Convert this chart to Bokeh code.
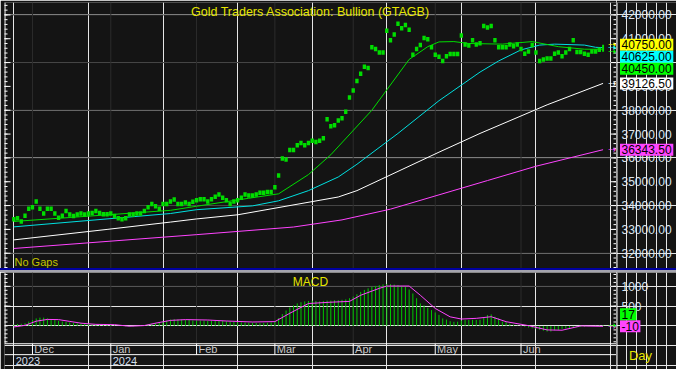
import numpy as np
from bokeh.plotting import figure
from bokeh.layouts import column, row
from bokeh.models import Range1d, Label, Span, Div
from bokeh.embed import file_html
from bokeh.resources import INLINE
from bokeh.core.properties import value

# ---------------- data ----------------
title_text = "Gold Traders Association: Bullion (GTAGB)"

close = [
    33427, 33467, 33333, 33573, 33867, 33933, 34173, 33867, 33667, 33867, 33867, 33667, 33493, 33573,
    33773, 33627, 33560, 33627, 33667, 33627, 33667, 33693, 33773, 33693, 33640, 33640, 33667, 33560,
    33467, 33427, 33467, 33627, 33627, 33667, 33667, 33773, 33933, 34067, 33973, 33867, 34067, 34067,
    34173,
    34253, 34067, 34067, 34133, 34067, 34160, 34227, 34267, 34267, 34173, 34267, 34373, 34467, 34333,
    34227, 34067, 34173, 34227, 34333, 34467, 34427, 34427, 34467, 34533, 34533, 34573, 34573, 34773,
    35267, 35973, 35933, 36333, 36333, 36533, 36627, 36533, 36627, 36720, 36667, 36720, 36827, 37627,
    37333, 37373, 37573, 37667, 37933, 38533, 38827, 39227, 39533, 39827, 39773, 40640, 40573, 40427,
    40427, 41333, 40933, 41173, 41627, 41440, 41573, 41373, 40333, 40573, 40733, 41027, 40973, 40640,
    40333, 40240,
    40067, 40267, 40360, 40360, 40360, 41133, 40760, 40720, 40933, 40760, 40813, 41533, 41467, 41533,
    40933, 40640, 40640, 40640, 40760, 40680, 40760, 40573, 40373, 40467, 40733, 40427, 40067, 40133,
    40173, 40173, 40373, 40427, 40267, 40427, 40573, 40933, 40440, 40440, 40373, 40333, 40467, 40467,
    40533, 40450,
]
last_high = 40750

ma_fast_idx = [0, 42, 49, 63, 71, 79, 85, 96, 106, 111, 114, 118, 122, 131, 139, 146, 153, 158]
ma_fast_val = [33333, 33800, 33973, 34307, 34493, 35300, 36133, 38000, 40133, 40667, 40867, 40880,
               40800, 40773, 40880, 40667, 40560, 40560]

ma_mid_idx = [0, 42, 49, 64, 71, 79, 87, 92, 103, 114, 125, 130, 136, 141, 145, 153, 156, 158]
ma_mid_val = [33107, 33667, 33827, 33987, 34200, 34627, 35200, 35733, 37027, 38400, 39600, 40067,
              40533, 40733, 40773, 40733, 40640, 40625]

ma_slow_idx = [0, 25, 42, 49, 60, 87, 92, 114, 125, 143, 158]
ma_slow_val = [32560, 33000, 33307, 33440, 33613, 34360, 34627, 36240, 37027, 38227, 39126.5]

ma_long_idx = [0, 49, 75, 88, 101, 114, 127, 140, 158]
ma_long_val = [32200, 32780, 33100, 33400, 33850, 34450, 35050, 35650, 36343.5]

macd = [
    30, 50, 55, 70, 110, 150, 190, 210, 210, 190, 160, 155, 130, 110, 100, 90, 75, 65, 60, 55,
    50, 45, 42, 40, 35, 30, 25, 15, 5, -5, -10, -17, -15, -5, 10, 25, 40, 55, 75, 90,
    110, 130, 160, 170, 165, 160, 155, 150, 135, 135, 135, 135, 130, 130, 130, 125, 125, 120, 110, 100,
    95, 90, 85, 80, 80, 75, 70, 75, 80, 90, 120, 200, 300, 390, 470, 520, 570, 600, 620, 630,
    640, 630, 620, 630, 640, 640, 650, 650, 660, 670, 700, 740, 800, 860, 910, 950, 990, 1010, 1030, 1050,
    1060, 1055, 1045, 1030, 1010, 990, 920, 820, 700, 570, 520, 460, 400, 340, 280, 190, 160, 120, 105, 108,
    140, 150, 150, 155, 150, 155, 208, 275, 292, 233, 192, 108, 100, 58, 33, 10, 0, -20, -40, -60,
    -75, -100, -120, -142, -142, -110, -100, -75, -65, -50, -40, -30, -25, -20, -8, 0, 5, 10, 17,
]
signal_idx = [0, 3, 6, 9, 12, 15, 18, 22, 27, 31, 35, 38, 42, 46, 52, 57, 64, 70, 74, 79, 85, 90,
              93, 98, 100, 106, 109, 113, 117, 120, 124, 128, 132, 138, 143, 147, 152, 158]
signal_val = [-25, 15, 120, 165, 160, 115, 70, 40, 33, -8, 10, 70, 140, 160, 150, 125, 100, 110, 320,
              567, 600, 620, 775, 950, 1008, 1008, 775, 442, 230, 175, 192, 233, 108, 8, -100, -108,
              0, -10]

month_labels = ["Dec", "Jan", "Feb", "Mar", "Apr", "May", "Jun"]
month_first_bar = [5, 26, 49, 70, 91, 113, 136]
year_labels = ["2023", "2024"]
year_first_bar = [0, 26]

price_ticks = list(range(32000, 42001, 1000))
price_minor = list(range(31400, 42600, 200))
price_grid = list(range(32000, 42001, 2000))
macd_ticks = [500, 1000]
macd_minor = list(range(-400, 1301, 100))

# ---------------- styling ----------------
BG = "#141414"
HGRID = "#3a3a3a"
VGRID = "#2c2c2c"
AXTXT = "#dbe5ef"
FONT = "Liberation Sans"
GREEN = "#00dd00"
CYAN = "#00e0e0"
MAG = "#ff44ff"
YEL = "#e6e600"

LEFT_W = 616          # chart figures (4px border + frame)
RIGHT_W = 60          # value-axis figures
X0, X1 = -2.5, 161.6
FRAME_W = LEFT_W - 4
upx = (X1 - X0) / FRAME_W

idx = np.arange(len(close))


def base_fig(width, height, xr, yr, top, left):
    return figure(width=width, height=height, x_range=xr, y_range=yr,
                  output_backend="svg", toolbar_location=None,
                  x_axis_location=None, y_axis_location=None,
                  min_border_left=left, min_border_right=0, min_border_top=top, min_border_bottom=0,
                  background_fill_color=BG, border_fill_color=BG, outline_line_color=None)


def edge_ticks(f, xpos, majors, minors):
    f.scatter(x=[xpos] * len(minors), y=minors, marker="dash", size=6, line_color="white")
    f.scatter(x=[xpos] * len(majors), y=majors, marker="dash", size=12, line_color="white")


def text_w(s):
    return sum(6.7 if ch.isdigit() else (3.4 if ch == "." else 4.0) for ch in s) + 3


def draw_tags(f, positions, texts, colors):
    widths = [text_w(t) for t in texts]
    f.rect(x=[3.5 + w / 2 for w in widths], y=positions, width=widths, height=12, height_units="screen",
           fill_color=colors, line_color=None)
    f.text(x=[5] * len(texts), y=positions, text=texts, text_align="left", text_baseline="middle",
           text_color="#000000", text_font=value(FONT), text_font_size="12px")


# ---------------- main panel ----------------
MAIN_H = 268
Y0, Y1 = 31360, 42520
upy = (Y1 - Y0) / (MAIN_H - 2)
yr_main = Range1d(Y0, Y1)
xr = Range1d(X0, X1)

p = base_fig(LEFT_W, MAIN_H, xr, yr_main, 2, 4)
p.segment(x0=[X0] * len(price_grid), y0=price_grid, x1=[X1] * len(price_grid), y1=price_grid,
          line_color=HGRID, line_width=1)
p.segment(x0=month_first_bar, y0=[Y0] * len(month_first_bar), x1=month_first_bar,
          y1=[Y1] * len(month_first_bar), line_color=VGRID, line_width=1)
p.add_layout(Span(location=X0 + 0.5 * upx, dimension="height", line_color="white", line_width=1))
edge_ticks(p, X0, price_ticks, price_minor)
edge_ticks(p, X1, price_ticks, price_minor)

p.line(ma_long_idx, ma_long_val, line_color=MAG, line_width=1)
p.line(ma_slow_idx, ma_slow_val, line_color="white", line_width=1)
p.line(ma_mid_idx, ma_mid_val, line_color=CYAN, line_width=1)
p.line(ma_fast_idx, ma_fast_val, line_color=GREEN, line_width=1)

p.rect(x=idx[:-1], y=close[:-1], width=0.9, height=4.5, height_units="screen",
       fill_color=GREEN, line_color=None)
p.segment(x0=[idx[-1]], y0=[close[-1]], x1=[idx[-1]], y1=[last_high], line_color=GREEN, line_width=2)

p.add_layout(Label(x=(X0 + X1) / 2, y=Y1 - 9 * upy, text=title_text, text_align="center",
                   text_baseline="middle", text_color=YEL, text_font=FONT, text_font_size="12.5px"))
p.add_layout(Label(x=X0 + 10 * upx, y=Y0 + 7 * upy, text="No Gaps", text_align="left",
                   text_baseline="middle", text_color="#c4c400", text_font=FONT, text_font_size="11px"))

tags_main = [(last_high, "#ffff00"), (ma_mid_val[-1], "#00ffff"), (close[-1], "#00ff00"),
             (ma_slow_val[-1], "#ffffff"), (ma_long_val[-1], "#ff44ff")]
p.text(x=[idx[-1] + 1.3] * len(tags_main), y=[t[0] for t in tags_main], text=["⇢"] * len(tags_main),
       text_color=[t[1] for t in tags_main], text_align="left", text_baseline="middle",
       text_font=value("DejaVu Sans"), text_font_size="10px")

# value axis of the main panel
pr = base_fig(RIGHT_W, MAIN_H, Range1d(0, RIGHT_W), yr_main, 2, 0)
pr.add_layout(Span(location=0.5, dimension="height", line_color="white", line_width=1))
pr.text(x=[5] * len(price_ticks), y=price_ticks, text=["%.2f" % t for t in price_ticks],
        text_align="left", text_baseline="middle", text_color=AXTXT,
        text_font=value(FONT), text_font_size="12px")
pos_main = []
prev = None
for v, col in tags_main:
    pos = v if prev is None else min(v, prev - 12 * upy)
    prev = pos
    pos_main.append(pos)
draw_tags(pr, pos_main, ["%.2f" % t[0] for t in tags_main], [t[1] for t in tags_main])

# ---------------- separator ----------------
sep = Div(text="", width=LEFT_W + RIGHT_W, height=4, margin=0,
          styles={"background-color": "#a4a4ae", "border-top": "2px solid #0000a0",
                  "box-sizing": "border-box"})

# ---------------- MACD panel ----------------
MACD_H = 97
M0, M1 = -1100, 1350
STRIP_TOP, STRIP_MID = -450, -725
mupy = (M1 - M0) / MACD_H
yr_macd = Range1d(M0, M1)

m = base_fig(LEFT_W, MACD_H, xr, yr_macd, 0, 4)
m.segment(x0=[X0], y0=[1000], x1=[X1], y1=[1000], line_color=HGRID)
m.segment(x0=month_first_bar, y0=[STRIP_TOP] * len(month_first_bar), x1=month_first_bar,
          y1=[M1] * len(month_first_bar), line_color=VGRID)
m.segment(x0=[X0 + 0.5 * upx], y0=[STRIP_TOP], x1=[X0 + 0.5 * upx], y1=[M1], line_color="white")
edge_ticks(m, X0, macd_ticks, macd_minor)
edge_ticks(m, X1, macd_ticks, macd_minor)

m.segment(x0=idx, y0=np.zeros(len(macd)), x1=idx, y1=macd, line_color="#00c800", line_width=1)
m.line(signal_idx, signal_val, line_color=MAG, line_width=1)

m.add_layout(Label(x=(X0 + X1) / 2, y=M1 - 9 * mupy, text="MACD", text_align="center",
                   text_baseline="middle", text_color=YEL, text_font=FONT, text_font_size="12px"))

m.add_layout(Span(location=STRIP_TOP, dimension="width", line_color="white", line_width=1))
m.add_layout(Span(location=STRIP_MID, dimension="width", line_color="white", line_width=1))
m.segment(x0=month_first_bar, y0=[STRIP_MID] * len(month_first_bar), x1=month_first_bar,
          y1=[STRIP_TOP] * len(month_first_bar), line_color="white", line_width=1)
yb = [b for b in year_first_bar if b > 0]
m.segment(x0=yb, y0=[M0] * len(yb), x1=yb, y1=[STRIP_MID] * len(yb), line_color="white", line_width=1)
m.text(x=[b + 0.5 for b in month_first_bar], y=[(STRIP_TOP + STRIP_MID) / 2] * len(month_first_bar),
       text=month_labels, text_align="left", text_baseline="middle", text_color="#c8c8c8",
       text_font=value(FONT), text_font_size="11px")
YEAR_Y = (STRIP_MID + M0) / 2 + 30
m.text(x=[b + 0.5 for b in year_first_bar], y=[YEAR_Y] * len(year_first_bar),
       text=year_labels, text_align="left", text_baseline="middle", text_color="#d0dcea",
       text_font=value(FONT), text_font_size="11px")

tags_macd = [(signal_val[-1], "#ff44ff"), (macd[-1], "#00ff00")]
m.text(x=[idx[-1] + 1.3] * 2, y=[t[0] for t in tags_macd], text=["⇢"] * 2,
       text_color=[t[1] for t in tags_macd], text_align="left", text_baseline="middle",
       text_font=value("DejaVu Sans"), text_font_size="10px")

mr = base_fig(RIGHT_W, MACD_H, Range1d(0, RIGHT_W), yr_macd, 0, 0)
mr.add_layout(Span(location=0.5, dimension="height", line_color="white", line_width=1))
mr.text(x=[5] * len(macd_ticks), y=macd_ticks, text=["%d" % t for t in macd_ticks],
        text_align="left", text_baseline="middle", text_color=AXTXT,
        text_font=value(FONT), text_font_size="12px")
tm_sorted = sorted(tags_macd)
pos_macd = []
prev = None
for v, col in tm_sorted:
    pos = v if prev is None else max(v, prev + 12 * mupy)
    prev = pos
    pos_macd.append(pos)
draw_tags(mr, pos_macd, ["%d" % t[0] for t in tm_sorted], [t[1] for t in tm_sorted])
mr.text(x=[24], y=[M0 + 14 * mupy], text=["Day"], text_align="center", text_baseline="middle",
        text_color=YEL, text_font=value(FONT), text_font_size="13px")

layout = column(row(p, pr, spacing=0), sep, row(m, mr, spacing=0), spacing=0)
open("out.html", "w").write(file_html(layout, INLINE))
